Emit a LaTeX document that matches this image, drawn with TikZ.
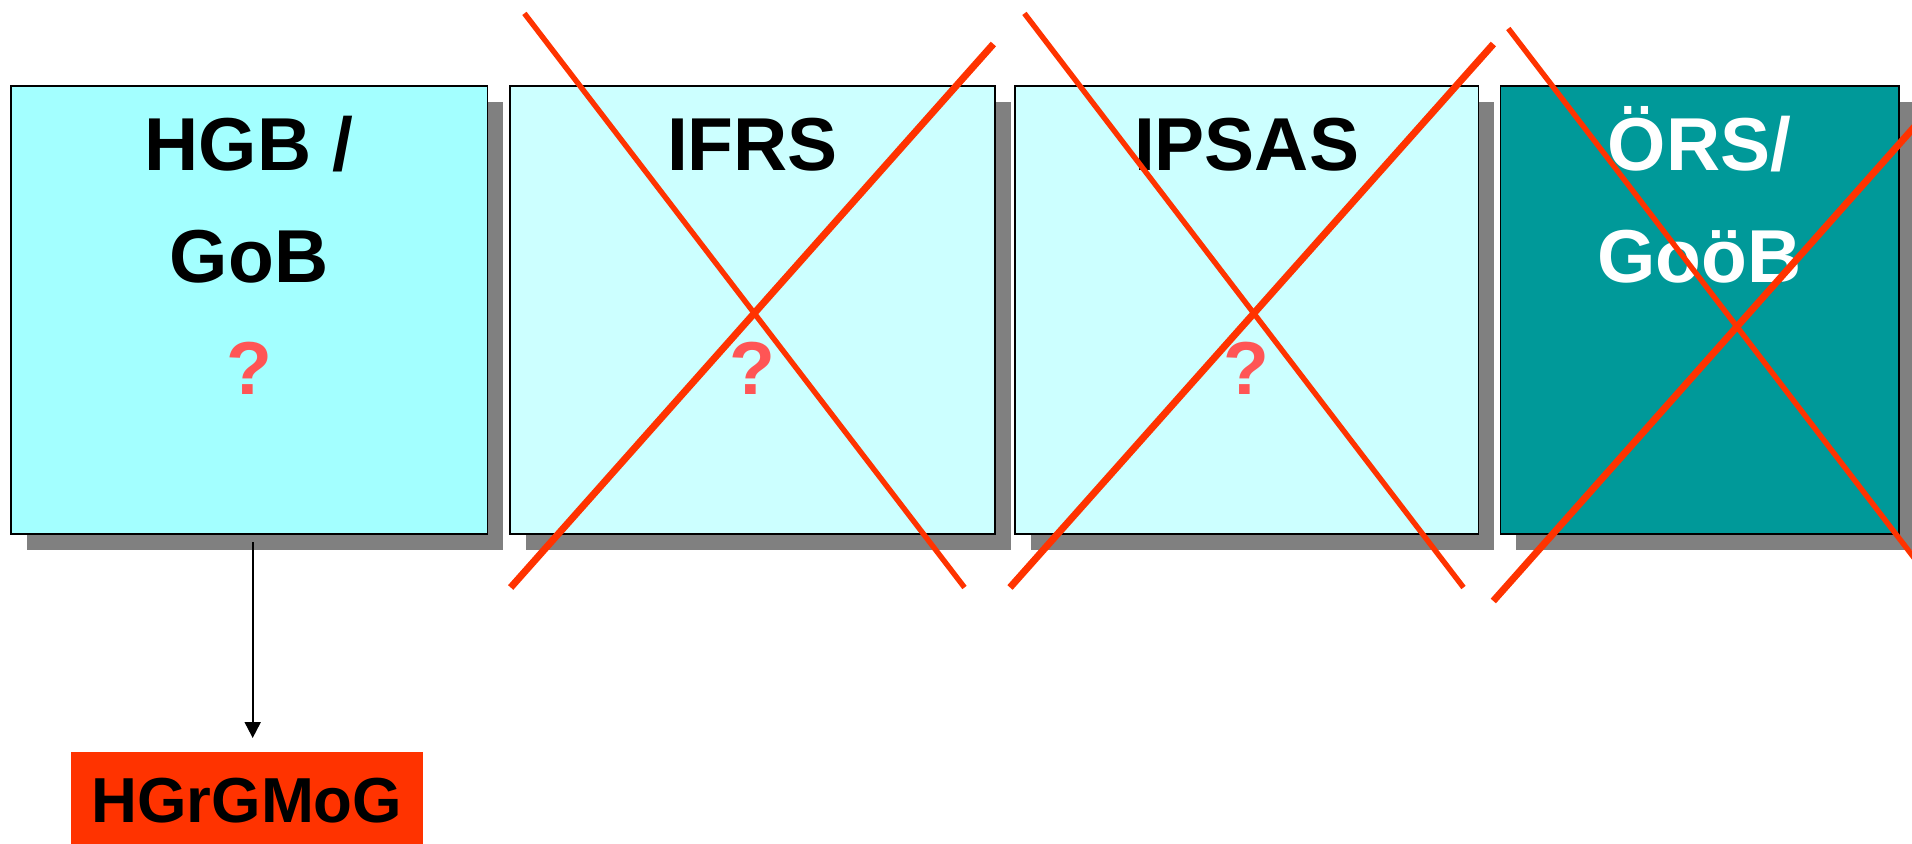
\documentclass[tikz,border=0pt]{standalone}
\usepackage{fontspec}
\setmainfont{Liberation Sans}
\usetikzlibrary{arrows.meta,shadows,calc}
\definecolor{cyanA}{HTML}{A3FFFF}
\definecolor{cyanB}{HTML}{CCFFFF}
\definecolor{boxteal}{HTML}{009999}
\definecolor{shadowgray}{HTML}{808080}
\definecolor{crossred}{HTML}{FF3300}
\definecolor{qred}{HTML}{FF5555}
\begin{document}
\begin{tikzpicture}[x=0.5pt,y=-0.5pt,
  stdbox/.style={draw=black, line width=0.8pt, rectangle, anchor=north west,
    inner sep=0pt, outer sep=0pt, minimum height=224pt,
    drop shadow={shadow xshift=8pt, shadow yshift=-8pt, fill=shadowgray, opacity=1}},
  title/.style={anchor=base, inner sep=0pt, font=\fontsize{37.5}{45}\selectfont\bfseries},
  qmark/.style={title, text=qred},
  thincross/.style={draw=crossred, line width=2.7pt},
  thickcross/.style={draw=crossred, line width=3.5pt},
  arr/.style={draw=black, line width=1pt, -{Triangle[length=8pt,width=8pt]}, shorten >=6.85pt},
  lawbox/.style={fill=crossred, anchor=north west, inner sep=0pt, outer sep=0pt,
    minimum width=175.85pt, minimum height=48.6pt, font=\fontsize{31.8}{38}\selectfont\bfseries}
]
\useasboundingbox (0,0) rectangle (1912,844);
\clip (0,0) rectangle (1912,844);

% boxes
\node[stdbox, fill=cyanA, minimum width=238.3pt] (b1) at (10.7,86) {};
\node[stdbox, fill=cyanB, minimum width=242.25pt] (b2) at (510.2,86) {};
\node[stdbox, fill=cyanB, minimum width=231.75pt] (b3) at (1014.8,86) {};
\node[stdbox, fill=boxteal, minimum width=199.35pt] (b4) at (1500.3,86) {};

% texts
\node[title] (b1l1) at ($(b1.north)+(0,84.7)$) {HGB /};
\node[title] (b1l2) at ($(b1.north)+(0,196.7)$) {GoB};
\node[qmark] (b1q) at ($(b1.north)+(0,308.3)$) {?};

\node[title] (b2l1) at ($(b2.north)+(0,85)$) {IFRS};
\node[qmark] (b2q) at ($(b2.north)+(0,308.3)$) {?};

\node[title] (b3l1) at ($(b3.north)+(0,85)$) {IPSAS};
\node[qmark] (b3q) at ($(b3.north)+(0,308.3)$) {?};

\node[title, text=white] (b4l1) at ($(b4.north)+(0,84.8)$) {ÖRS/};
\node[title, text=white] (b4l2) at ($(b4.north)+(0,196.7)$) {GoöB};

% law box and arrow
\node[lawbox] (hg) at (71,751.7) {HGrGMoG};
\coordinate (arrstart) at ($(b1.south)+(3.7,8)$);
\draw[arr] (arrstart) -- (arrstart |- hg.north);

% crosses
\draw[thincross] (524.4,13.4) -- (964.5,587.5);
\draw[thickcross] (510.7,587.5) -- (993.4,44);
\draw[thincross] (1024.4,13.4) -- (1463.5,587.5);
\draw[thickcross] (1010,587.5) -- (1493.4,44);
\draw[thincross] (1508.3,28.5) -- (1948.4,602.6);
\draw[thickcross] (1493.3,601) -- (1976,57.5);
\end{tikzpicture}
\end{document}
